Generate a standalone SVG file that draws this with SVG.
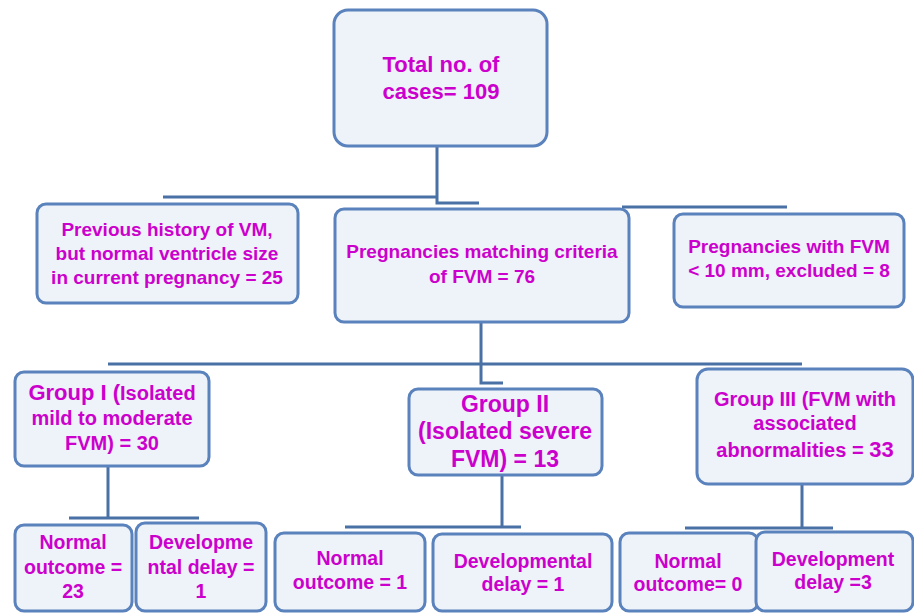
<svg xmlns="http://www.w3.org/2000/svg" width="914" height="613" viewBox="0 0 914 613">
<style>
.box{fill:#EEF2F9;stroke:#5A82BC;stroke-width:3}
.ln{fill:none;stroke:#4A71A6;stroke-width:3}
text{font-family:"Liberation Sans",Arial,sans-serif;font-weight:bold;fill:#CC00CC;text-anchor:middle}
.f22{font-size:22px}.f19{font-size:19px}.f20{font-size:20px}.f23{font-size:23px}.fb{font-size:19.5px}
</style>
<rect width="914" height="613" fill="#FFFFFF"/>
<g id="connectors">
<path class="ln" d="M437,146 V203 H479 M163,197 H437"/>
<path class="ln" d="M622,207 H787"/>
<path class="ln" d="M481,322 V383 H503 M108,364 H802"/>
<path class="ln" d="M108,466 V518 M69,518 H199"/>
<path class="ln" d="M502,475 V528 M345,527 H521"/>
<path class="ln" d="M802,484 V528 M685,528 H833"/>
</g>
<g id="total">
<rect class="box" x="334" y="10" width="213" height="136" rx="14"/>
<text class="f22" x="441" y="72">Total no. of</text>
<text class="f22" x="441" y="99">cases= 109</text>
</g>
<g id="previous">
<rect class="box" x="37" y="204" width="261" height="99" rx="9"/>
<text class="f19" x="167" y="236">Previous history of VM,</text>
<text class="f19" x="167" y="260">but normal ventricle size</text>
<text class="f19" x="167" y="284">in current pregnancy = 25</text>
</g>
<g id="matching">
<rect class="box" x="335" y="209" width="294" height="113" rx="9"/>
<text class="f19" x="482" y="258">Pregnancies matching criteria</text>
<text class="f19" x="482" y="283">of FVM = 76</text>
</g>
<g id="excluded">
<rect class="box" x="674" y="214" width="230" height="93" rx="9"/>
<text class="f19" x="789" y="253">Pregnancies with FVM</text>
<text class="f19" x="789" y="277">&lt; 10 mm, excluded = 8</text>
</g>
<g id="group1">
<rect class="box" x="15" y="372" width="194" height="94" rx="9"/>
<text class="f20" x="112" y="400"><tspan style="font-size:22px">Group I (</tspan>Isolated</text>
<text class="f20" x="112" y="425">mild to moderate</text>
<text class="f20" x="112" y="450">FVM) = 30</text>
</g>
<g id="group2">
<rect class="box" x="409" y="389" width="193" height="86" rx="9"/>
<text class="f23" x="505" y="412">Group II</text>
<text class="f23" x="505" y="439">(Isolated severe</text>
<text class="f23" x="505" y="467">FVM) = 13</text>
</g>
<g id="group3">
<rect class="box" x="697" y="369" width="216" height="115" rx="11"/>
<text class="f20" x="805" y="406">Group III (FVM with</text>
<text class="f20" x="805" y="430">associated</text>
<text class="f20" x="805" y="457">abnormalities = <tspan style="font-size:22px">33</tspan></text>
</g>
<g id="g1normal">
<rect class="box" x="15" y="525" width="117" height="86" rx="9"/>
<text class="fb" x="73" y="549">Normal</text>
<text class="fb" x="73" y="574">outcome =</text>
<text class="fb" x="73" y="598">23</text>
</g>
<g id="g1delay">
<rect class="box" x="136" y="523" width="130" height="88" rx="9"/>
<text class="fb" x="201" y="549">Developme</text>
<text class="fb" x="201" y="574">ntal delay =</text>
<text class="fb" x="201" y="598">1</text>
</g>
<g id="g2normal">
<rect class="box" x="275" y="533" width="150" height="78" rx="9"/>
<text class="fb" x="350" y="565">Normal</text>
<text class="fb" x="350" y="589">outcome = 1</text>
</g>
<g id="g2delay">
<rect class="box" x="433" y="534" width="179" height="77" rx="9"/>
<text class="fb" x="523" y="568">Developmental</text>
<text class="fb" x="523" y="591">delay = 1</text>
</g>
<g id="g3normal">
<rect class="box" x="620" y="533" width="138" height="78" rx="9"/>
<text class="fb" x="688" y="568">Normal</text>
<text class="fb" x="688" y="591">outcome= 0</text>
</g>
<g id="g3delay">
<rect class="box" x="756" y="532" width="157" height="79" rx="9"/>
<text class="fb" x="833" y="566">Development</text>
<text class="fb" x="833" y="589">delay =3</text>
</g>
</svg>
